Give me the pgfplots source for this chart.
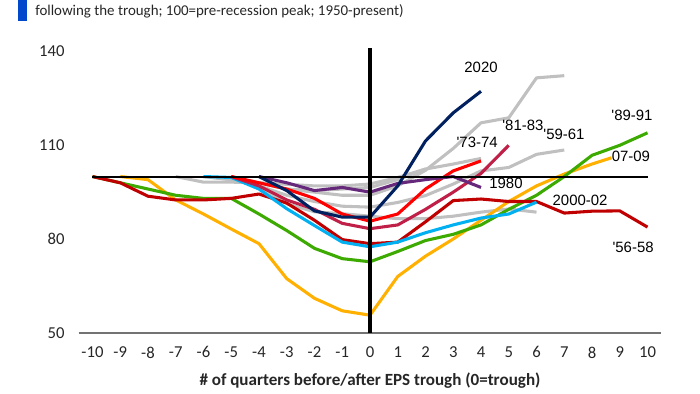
\documentclass[border=0pt]{standalone}
\usepackage{pgfplots}
\pgfplotsset{compat=1.18}
\usepackage{fontspec}
\setmainfont{Carlito}
\newfontfamily\labfont{Liberation Sans}
\definecolor{cgreen}{RGB}{60,170,0}
\definecolor{cdred}{RGB}{192,0,0}
\definecolor{corange}{RGB}{255,176,0}
\definecolor{ccyan}{RGB}{0,176,240}
\definecolor{cnavy}{RGB}{0,32,96}
\definecolor{cred}{RGB}{255,0,0}
\definecolor{ccrimson}{RGB}{192,32,72}
\definecolor{cpurple}{RGB}{102,40,122}
\definecolor{cgray}{RGB}{192,192,192}
\definecolor{cblue}{RGB}{0,72,204}
\begin{document}
\begin{tikzpicture}
\useasboundingbox (-58.95pt,-45.98pt) rectangle (466.05pt,249.5pt);
\clip (-58.95pt,-45.98pt) rectangle (466.05pt,249.5pt);
\fill[cblue] (-45.45pt,233.7pt) rectangle (-38.7pt,250pt);
\node[anchor=base west, inner sep=0pt, text=black!85] at (-32.7pt,238.0pt) {\fontsize{11.2}{13}\selectfont following the trough; 100=pre-recession peak; 1950-present)};
\begin{axis}[at={(0,0)}, anchor=south west, scale only axis,
  width=437.1pt, height=210.8pt,
  xmin=-10.5, xmax=10.5, ymin=50, ymax=140,
  axis line style={draw=none}, tick style={draw=none},
  xtick={-10,-9,...,10}, ytick={50,80,110,140},
  clip=false,
  ticklabel style={font=\fontsize{12.5}{14}\selectfont, text=black!85},
  /pgf/number format/assume math mode=true,
  y tick label style={xshift=-7pt},
  x tick label style={yshift=-7pt},
  every axis plot/.append style={line width=2.3pt, line join=round, mark=none},
]
% gray series
\addplot[cgray] coordinates {(-5,100)(-4,98)(-3,96)(-2,95)(-1,94)(0,94)(1,97)(2,102)(3,109)(4,117.2)(5,118.8)(6,131.6)(7,132.3)};
\addplot[cgray] coordinates {(-6,100)(-5,99)(-4,97)(-3,94)(-2,92)(-1,90.5)(0,90.2)(1,91.7)(2,93.9)(3,97.6)(4,101.8)(5,102.9)(6,107.1)(7,108.5)};
\addplot[cgray] coordinates {(-7,100)(-6,98.2)(-5,98.2)(-4,98)(-3,97.5)(-2,97)(-1,97)(0,97.6)(1,99.7)(2,102.4)(3,104)(4,105.8)};
\addplot[cgray] coordinates {(-5,100)(-4,96.6)(-3,91.3)(-2,88.7)(-1,88.1)(0,87.3)(1,86.5)(2,86.5)(3,87.3)(4,88.6)(5,89.6)(6,88.6)};
\addplot[cgray] coordinates {(-6,100)(-5,99)(-4,98)(-3,96)(-2,95.5)(-1,96)(0,96.5)(1,99)(2,102.4)};
% colored series
\addplot[corange] coordinates {(-9,100)(-8,99)(-7,92.5)(-6,88)(-5,83.2)(-4,78.5)(-3,67.3)(-2,61)(-1,57)(0,55.6)(1,68)(2,74.5)(3,80)(4,86)(5,92)(6,97)(7,100.8)(8,104)(8.7,106)};
\addplot[cgreen] coordinates {(-10,100)(-9,98)(-8,96)(-7,94)(-6,93)(-5,93)(-4,88)(-3,82.7)(-2,77)(-1,73.7)(0,72.7)(1,76)(2,79.5)(3,81.5)(4,84.5)(5,89.5)(6,94)(7,100)(8,106.8)(9,110)(10,114)};
\addplot[cdred] coordinates {(-10,100)(-9,98)(-8,93.7)(-7,92.5)(-6,92.5)(-5,93)(-4,94.4)(-3,91.5)(-2,86)(-1,79.8)(0,78.5)(1,79)(2,85.5)(3,92.3)(4,92.8)(5,92)(6,92)(7,88.3)(8,88.9)(9,89)(10,83.8)};
\addplot[ccyan] coordinates {(-6,100)(-5,99.7)(-4,96)(-3,89.7)(-2,84.3)(-1,79)(0,77.5)(1,79)(2,82)(3,84.5)(4,86.7)(5,88)(6,91.8)};
\addplot[ccrimson] coordinates {(-5,100)(-4,97)(-3,92.5)(-2,89.5)(-1,85)(0,83.3)(1,84.5)(2,89.5)(3,95)(4,101)(5,110)};
\addplot[cred] coordinates {(-5,100)(-4,98)(-3,96)(-2,93)(-1,88)(0,85.7)(1,88)(2,96)(3,101.8)(4,105)};
\addplot[cpurple] coordinates {(-4,100)(-3,98)(-2,95.5)(-1,96.5)(0,95)(1,97.8)(2,99)(3,100)(4,96.5)};
\addplot[cnavy] coordinates {(-4,100)(-3,95.5)(-2,89)(-1,87)(0,87)(1,97)(2,111.4)(3,120.4)(4,127.3)};
% reference lines
\addplot[black, line width=1.5pt] coordinates {(-10,100)(10,100)};
\addplot[black!55, line width=1.5pt] coordinates {(-10.5,50)(10.5,50)};
\addplot[black, line width=3pt, line cap=butt] coordinates {(0,50)(0,141.2)};
% labels
\begin{scope}[every node/.style={font=\labfont\fontsize{11.2}{12}\selectfont, inner sep=0pt}]
\node at (axis cs:4.0,135.0) {2020};
\node at (axis cs:3.86,110.9) {'73-74};
\node at (axis cs:5.51,116.4) {'81-83};
\node at (axis cs:6.99,113.5) {'59-61};
\node at (axis cs:4.9,97.9) {1980};
\node at (axis cs:9.44,119.6) {'89-91};
\node at (axis cs:9.40,106.6) {07-09};
\node at (axis cs:7.57,92.5) {2000-02};
\node at (axis cs:9.48,77.4) {'56-58};
\end{scope}
\node[font=\bfseries\fontsize{12.8}{14}\selectfont, text=black!85] at ([yshift=-36.2pt]axis cs:0,50) {\# of quarters before/after EPS trough (0=trough)};
\end{axis}
\end{tikzpicture}
\end{document}
